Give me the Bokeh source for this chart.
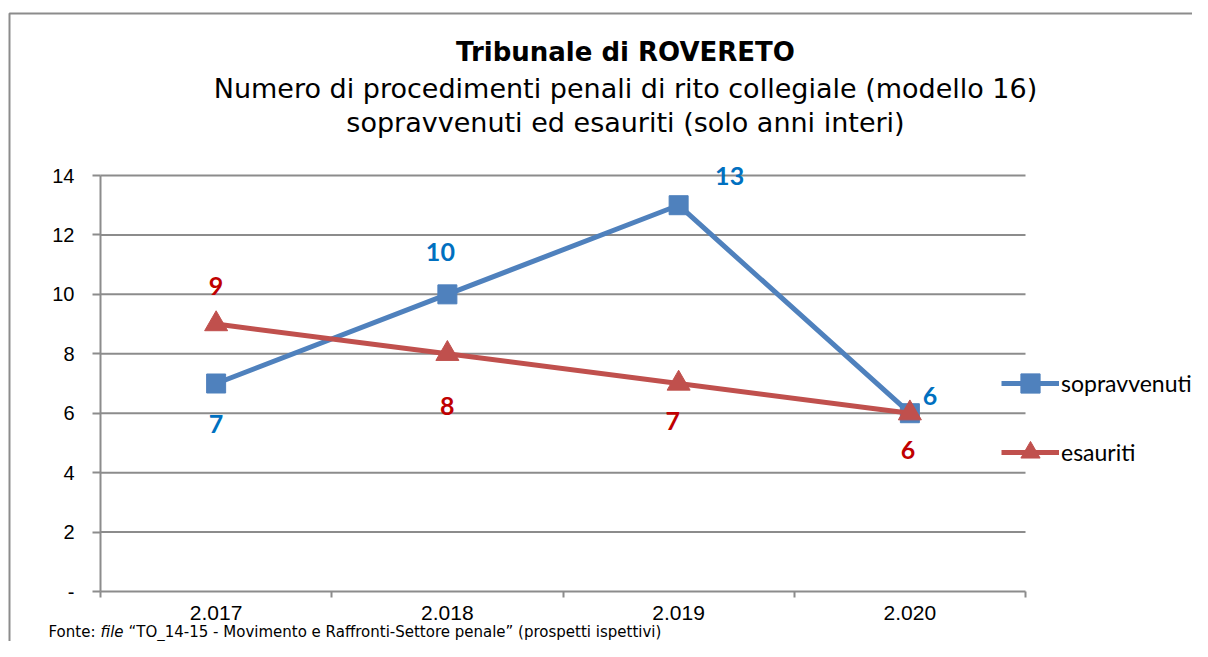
from bokeh.plotting import figure
from bokeh.models import (Range1d, FixedTicker, Label, Legend, LegendItem, BoxAnnotation)
from bokeh.embed import file_html
from bokeh.resources import INLINE

# ---- data ----
anni = ["2.017", "2.018", "2.019", "2.020"]
sopravvenuti = [7, 10, 13, 6]
esauriti = [9, 8, 7, 6]
y_ticks = [0, 2, 4, 6, 8, 10, 12, 14]
y_tick_labels = ["-", "2", "4", "6", "8", "10", "12", "14"]

title_text = "Tribunale di ROVERETO"
subtitle_lines = ["Numero di procedimenti penali di rito collegiale (modello 16)",
                  "sopravvenuti ed esauriti (solo anni interi)"]
fonte_parts = ["Fonte:", "file", "\u201cTO_14-15 - Movimento e Raffronti-Settore penale\u201d (prospetti ispettivi)"]

BLUE = "#4F81BD"
RED = "#C0504D"
BLUE_T = "#0070C0"
RED_T = "#C00000"
GRID = "#8c8c8c"

W, H = 1192, 641
# plot-area geometry (pixels in the canvas)
AX_LEFT, AX_RIGHT, AX_TOP, AX_BOTTOM = 100, 1025, 175, 591
n = len(anni)
ymax = max(y_ticks)
px_x = (AX_RIGHT - AX_LEFT) / n
px_y = (AX_BOTTOM - AX_TOP) / ymax

xs = [i + 0.5 for i in range(n)]

p = figure(width=W, height=H, output_backend="svg", toolbar_location=None,
           x_range=Range1d(-AX_LEFT / px_x, (W - AX_LEFT) / px_x),
           y_range=Range1d(-(H - AX_BOTTOM) / px_y, AX_BOTTOM / px_y),
           min_border_left=0, min_border_right=0, min_border_top=0, min_border_bottom=0)
p.outline_line_color = None
p.background_fill_color = "white"
p.border_fill_color = "white"
p.xgrid.visible = False
p.ygrid.visible = False

# axes
xa = p.xaxis[0]
xa.fixed_location = 0
xa.bounds = (0, n)
xa.ticker = FixedTicker(ticks=xs, minor_ticks=list(range(n + 1)))
xa.major_label_overrides = {x: a for x, a in zip(xs, anni)}
xa.major_tick_out = 0
xa.major_tick_in = 0
xa.minor_tick_out = 6
xa.minor_tick_in = 0
xa.minor_tick_line_color = GRID
xa.minor_tick_line_width = 2
xa.axis_line_color = GRID
xa.axis_line_width = 2
xa.major_label_text_font = "Liberation Sans"
xa.major_label_text_font_size = "21px"
xa.major_label_text_color = "#000000"
xa.major_label_standoff = 8

ya = p.yaxis[0]
ya.fixed_location = 0
ya.bounds = (0, ymax)
ya.ticker = FixedTicker(ticks=y_ticks, minor_ticks=[])
ya.major_label_overrides = {t: l for t, l in zip(y_ticks, y_tick_labels)}
ya.major_tick_out = 8
ya.major_tick_in = 0
ya.major_tick_line_color = GRID
ya.major_tick_line_width = 2
ya.minor_tick_line_color = None
ya.axis_line_color = GRID
ya.axis_line_width = 2
ya.major_label_text_font = "Liberation Sans"
ya.major_label_text_font_size = "20px"
ya.major_label_text_color = "#000000"
ya.major_label_standoff = 18

# horizontal gridlines across the category span
gy = y_ticks[1:]
p.segment(x0=[0] * len(gy), x1=[n] * len(gy), y0=gy, y1=gy, line_color=GRID, line_width=2)

# series
l1 = p.line(xs, sopravvenuti, line_color=BLUE, line_width=5)
m1 = p.scatter(xs, sopravvenuti, marker="square", size=19, fill_color=BLUE, line_color=BLUE)
l2 = p.line(xs, esauriti, line_color=RED, line_width=5)
m2 = p.scatter(xs, esauriti, marker="triangle", size=23, fill_color=RED, line_color=RED)

# data labels
blue_off = [(0, -40), (-7, 42), (51, 29), (20, 17)]
red_off = [(0, 38), (0, -52), (-6, -37), (-2, -37)]
for x, v, (dx, dy) in zip(xs, sopravvenuti, blue_off):
    p.add_layout(Label(x=x, y=v, text=str(v), x_offset=dx, y_offset=dy,
                       text_align="center", text_baseline="middle",
                       text_font="Lato", text_font_style="bold",
                       text_font_size="25px", text_color=BLUE_T))
for x, v, (dx, dy) in zip(xs, esauriti, red_off):
    p.add_layout(Label(x=x, y=v, text=str(v), x_offset=dx, y_offset=dy,
                       text_align="center", text_baseline="middle",
                       text_font="Lato", text_font_style="bold",
                       text_font_size="25px", text_color=RED_T))

# legend
legend = Legend(items=[LegendItem(label="sopravvenuti", renderers=[l1, m1]),
                       LegendItem(label="esauriti", renderers=[l2, m2])],
                location=(1001, 165), orientation="vertical",
                glyph_width=58, glyph_height=48, label_height=48, spacing=21,
                padding=0, margin=0, label_standoff=2,
                label_text_font="Lato", label_text_font_size="23px",
                label_text_color="#000000",
                border_line_color=None, background_fill_alpha=0)
p.add_layout(legend, "center")

# titles (screen units measured from the bottom-left of the canvas)
p.add_layout(Label(x=625, y=H - 51, x_units="screen", y_units="screen", text=title_text,
                   text_align="center", text_baseline="middle",
                   text_font="DejaVu Sans", text_font_style="bold", text_font_size="26px",
                   text_color="#000000"))
for yy, t in zip([88, 122], subtitle_lines):
    p.add_layout(Label(x=625, y=H - yy, x_units="screen", y_units="screen", text=t,
                       text_align="center", text_baseline="middle",
                       text_font="DejaVu Sans", text_font_size="27px",
                       text_color="#000000"))

# footnote
fx = [48, 100, 128]
for xx, t, st in zip(fx, fonte_parts, ["normal", "italic", "normal"]):
    p.add_layout(Label(x=xx, y=H - 631, x_units="screen", y_units="screen", text=t,
                       text_align="left", text_baseline="middle",
                       text_font="DejaVu Sans", text_font_style=st, text_font_size="15px",
                       text_color="#000000"))

# outer border
p.add_layout(BoxAnnotation(left=9, right=W + 50, top=H - 13, bottom=-50,
                           left_units="screen", right_units="screen",
                           top_units="screen", bottom_units="screen",
                           fill_alpha=0, line_color=GRID, line_alpha=1, line_width=2))

open("out.html", "w").write(file_html(p, INLINE))
